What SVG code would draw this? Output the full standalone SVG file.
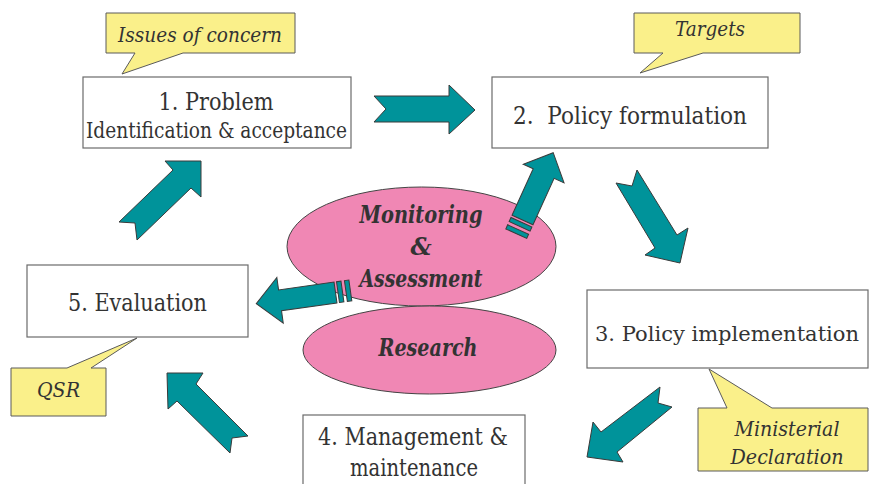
<svg xmlns="http://www.w3.org/2000/svg" width="869" height="484" viewBox="0 0 869 484">
<style>
.box{fill:#fff;stroke:#6b6b6b;stroke-width:1.2}
.call{fill:#FAF08A;stroke:#5a5a5a;stroke-width:1}
.ell{fill:#F087B4;stroke:#444;stroke-width:1}
.arr{fill:#00939A;stroke:#3a3a3a;stroke-width:1;stroke-linejoin:miter}
text{font-family:'DejaVu Serif','Liberation Serif',serif;fill:#333;text-anchor:middle}
.n{font-size:23.5px}
.i{font-size:21px;font-style:italic}
.b{font-size:23.5px;font-style:italic;font-weight:bold}
</style>
<rect width="869" height="484" fill="#fff"/>

<g id="center">
  <g id="monitoring">
    <ellipse class="ell" cx="421.5" cy="246.5" rx="134.5" ry="59.5"/>
    <text class="b" x="421" y="223" textLength="123" lengthAdjust="spacingAndGlyphs">Monitoring</text>
    <text class="b" x="421" y="255">&amp;</text>
    <text class="b" x="421" y="287" textLength="123" lengthAdjust="spacingAndGlyphs">Assessment</text>
  </g>
  <g id="research">
    <ellipse class="ell" cx="429.5" cy="350" rx="126.5" ry="44"/>
    <text class="b" x="428" y="356" textLength="99" lengthAdjust="spacingAndGlyphs">Research</text>
  </g>
</g>

<g id="node1">
  <rect class="box" x="83" y="77" width="268" height="71"/>
  <text class="n" x="216" y="110" textLength="115" lengthAdjust="spacingAndGlyphs">1. Problem</text>
  <text font-size="22" x="216.5" y="138" textLength="261" lengthAdjust="spacingAndGlyphs">Identification &amp; acceptance</text>
</g>
<g id="node2">
  <rect class="box" x="492" y="77" width="276" height="71"/>
  <text class="n" x="630" y="124" style="white-space:pre" xml:space="preserve" textLength="234" lengthAdjust="spacingAndGlyphs">2.  Policy formulation</text>
</g>
<g id="node3">
  <rect class="box" x="587" y="290" width="281" height="78"/>
  <text font-size="21" x="727" y="341" textLength="264" lengthAdjust="spacingAndGlyphs">3. Policy implementation</text>
</g>
<g id="node4">
  <rect class="box" x="303" y="415" width="222" height="80"/>
  <text class="n" x="413" y="445" textLength="190" lengthAdjust="spacingAndGlyphs">4. Management &amp;</text>
  <text class="n" x="414" y="476" textLength="128" lengthAdjust="spacingAndGlyphs">maintenance</text>
</g>
<g id="node5">
  <rect class="box" x="27" y="265" width="221" height="72"/>
  <text class="n" x="137.5" y="311" textLength="139" lengthAdjust="spacingAndGlyphs">5. Evaluation</text>
</g>

<g id="callout-issues">
  <path class="call" d="M106,13 H295 V53 H183 L122,74 L135,53 H106 Z"/>
  <text class="i" x="200" y="42" textLength="164" lengthAdjust="spacingAndGlyphs">Issues of concern</text>
</g>
<g id="callout-targets">
  <path class="call" d="M634,13 H800 V53 H703 L640,73 L663,53 H634 Z"/>
  <text class="i" x="710" y="36" textLength="70" lengthAdjust="spacingAndGlyphs">Targets</text>
</g>
<g id="callout-qsr">
  <path class="call" d="M11,368 H67 L137,338 L91,368 H106 V416 H11 Z"/>
  <text class="i" x="58.5" y="397" textLength="43" lengthAdjust="spacingAndGlyphs">QSR</text>
</g>
<g id="callout-ministerial">
  <path class="call" d="M698,408 H727 L709,369 L772,408 H868 V471 H698 Z"/>
  <text class="i" x="787" y="436" textLength="105" lengthAdjust="spacingAndGlyphs">Ministerial</text>
  <text class="i" x="787" y="464" textLength="113" lengthAdjust="spacingAndGlyphs">Declaration</text>
</g>

<g id="connectors">
  <polygon class="arr" points="374,96 449,96 449,85 475,110 449,134 449,122 374,122 386,109"/>
  <polygon class="arr" points="616,183 632,186 637,170 677,235 688,228 680,263 645,255 655,248"/>
  <polygon class="arr" points="660,387 658,403 672,407 617,452 623,462 587,457 593,422 601,432"/>
  <polygon class="arr" points="167,373 203,373 196,384 248,436 232,438 230,453 177,401 168,409"/>
  <polygon class="arr" points="201,161 165,161 173,170 119,222 135,223 137,240 191,188 201,197"/>
  <g transform="translate(522.5,220) rotate(-65.5)">
    <polygon class="arr" points="0,-11.5 51,-11.5 51,-22.4 74,0 51,22.4 51,11.5 0,11.5"/>
    <rect class="arr" x="-7" y="-11.5" width="4.5" height="23"/>
    <rect class="arr" x="-15" y="-11.5" width="4.5" height="23"/>
  </g>
  <g transform="translate(335.5,292.5) rotate(172)">
    <polygon class="arr" points="0,-10.5 56,-10.5 56,-23 80,0 56,23 56,10.5 0,10.5"/>
    <rect class="arr" x="-7" y="-10.5" width="4.5" height="21"/>
    <rect class="arr" x="-15" y="-10.5" width="4.5" height="21"/>
  </g>
</g>
</svg>
